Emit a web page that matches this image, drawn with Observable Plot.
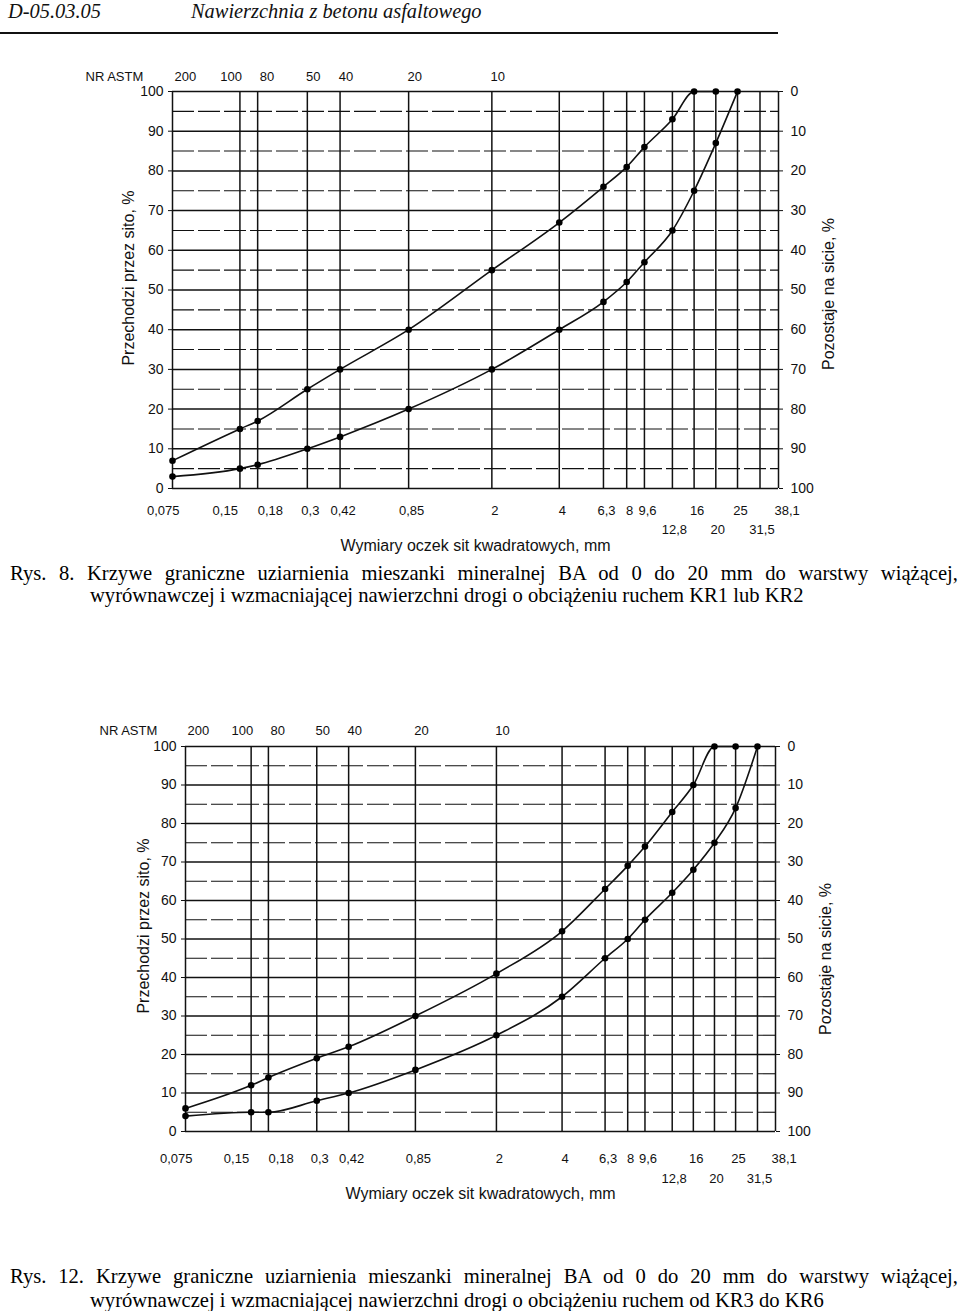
<!DOCTYPE html>
<html lang="pl">
<head>
<meta charset="utf-8">
<script src="https://cdn.jsdelivr.net/npm/d3@7"></script>
<script src="https://cdn.jsdelivr.net/npm/@observablehq/plot@0.6"></script>
<style>
  html, body { margin: 0; padding: 0; background: #fff; }
  #page { position: relative; width: 960px; height: 1311px; overflow: hidden; background: #fff; }
  .hdr { position: absolute; top: 0; font-family: "Liberation Serif", "Times New Roman", serif; font-style: italic; font-size: 20.4px; line-height: 22px; color: #111; white-space: nowrap; }
  .rule { position: absolute; left: 0; top: 32px; width: 778px; height: 2px; background: #111; }
  .chart { position: absolute; left: 0; }
  .cap { position: absolute; font-family: "Liberation Serif", "Times New Roman", serif; font-size: 20.6px; line-height: 22px; color: #000; white-space: nowrap; }
  .cap.first { width: 948px; white-space: normal; text-align: justify; text-align-last: justify; }
</style>
</head>
<body>
<div id="page">
  <div class="hdr" style="left:8px">D-05.03.05</div>
  <div class="hdr" style="left:191px">Nawierzchnia z betonu asfaltowego</div>
  <div class="rule"></div>

  <div id="chart1" class="chart" style="top:50px"></div>
  <div class="cap first" style="left:10px;top:562px">Rys. 8. Krzywe graniczne uziarnienia mieszanki mineralnej BA od 0 do 20 mm do warstwy wiążącej,</div>
  <div class="cap" style="left:90px;top:584px">wyrównawczej i wzmacniającej nawierzchni drogi o obciążeniu ruchem KR1 lub KR2</div>

  <div id="chart2" class="chart" style="top:700px"></div>
  <div class="cap first" style="left:10px;top:1265px">Rys. 12. Krzywe graniczne uziarnienia mieszanki mineralnej BA od 0 do 20 mm do warstwy wiążącej,</div>
  <div class="cap" style="left:90px;top:1289px">wyrównawczej i wzmacniającej nawierzchni drogi o obciążeniu ruchem od KR3 do KR6</div>
</div>

<script>
// ---- Sieve sizes (mm) and labels ----
const sieves = [0.075, 0.15, 0.18, 0.3, 0.42, 0.85, 2, 4, 6.3, 8, 9.6, 12.8, 16, 20, 25, 31.5, 38.1];
const bottomRow1 = [0.075, 0.15, 0.18, 0.3, 0.42, 0.85, 2, 4, 6.3, 8, 9.6, 16, 25, 38.1];
const bottomRow2 = [12.8, 20, 31.5];
const astmSizes = [0.075, 0.15, 0.18, 0.3, 0.42, 0.85, 2];
const astmNumbers = ["200", "100", "80", "50", "40", "20", "10"];
const majorY = [0, 10, 20, 30, 40, 50, 60, 70, 80, 90, 100];
const minorY = [5, 15, 25, 35, 45, 55, 65, 75, 85, 95];

// ---- Rys. 8: KR1 lub KR2 ----
const kr12UpperSizes = [0.075, 0.15, 0.18, 0.3, 0.42, 0.85, 2, 4, 6.3, 8, 9.6, 12.8, 16, 20];
const kr12Upper      = [7, 15, 17, 25, 30, 40, 55, 67, 76, 81, 86, 93, 100, 100];
const kr12LowerSizes = [0.075, 0.15, 0.18, 0.3, 0.42, 0.85, 2, 4, 6.3, 8, 9.6, 12.8, 16, 20, 25];
const kr12Lower      = [3, 5, 6, 10, 13, 20, 30, 40, 47, 52, 57, 65, 75, 87, 100];

// ---- Rys. 12: KR3 do KR6 ----
const kr36UpperSizes = [0.075, 0.15, 0.18, 0.3, 0.42, 0.85, 2, 4, 6.3, 8, 9.6, 12.8, 16, 20, 25];
const kr36Upper      = [6, 12, 14, 19, 22, 30, 41, 52, 63, 69, 74, 83, 90, 100, 100];
const kr36LowerSizes = [0.075, 0.15, 0.18, 0.3, 0.42, 0.85, 2, 4, 6.3, 8, 9.6, 12.8, 16, 20, 25, 31.5];
const kr36Lower      = [4, 5, 5, 8, 10, 16, 25, 35, 45, 50, 55, 62, 68, 75, 84, 100];

const fmt = d => String(d).replace(".", ",");
const INK = "#111";

function gradingChart(cfg) {
  const up = cfg.upperSizes.map((s, i) => ({size: s, pass: cfg.upper[i]}));
  const lo = cfg.lowerSizes.map((s, i) => ({size: s, pass: cfg.lower[i]}));
  const astm = astmSizes.map((s, i) => ({size: s, label: astmNumbers[i]}));
  const astmStart = astm.filter(d => d.label === "200" || d.label === "80");
  const astmEnd = astm.filter(d => d.label === "100");
  const astmMid = astm.filter(d => !["200", "80", "100"].includes(d.label));
  const first = bottomRow1[0], last = bottomRow1[bottomRow1.length - 1];
  const row1Mid = bottomRow1.filter(d => d !== first && d !== last && d !== 0.15 && d !== 0.18);
  const tf = {fill: INK, fontSize: 13};
  return Plot.plot({
    width: 960,
    height: cfg.height,
    marginLeft: cfg.mL, marginRight: cfg.mR, marginTop: cfg.mT, marginBottom: cfg.mB,
    x: {type: "log", domain: [sieves[0], sieves[sieves.length - 1]], axis: null},
    y: {domain: [0, 100], axis: null},
    style: {fontFamily: "'Liberation Sans', Arial, sans-serif", fontSize: "14px", color: INK, background: "transparent", overflow: "visible"},
    marks: [
      Plot.ruleY(minorY, {stroke: INK, strokeWidth: 1.1, strokeDasharray: "22,4"}),
      Plot.ruleY(majorY, {stroke: INK, strokeWidth: 1.5}),
      Plot.ruleX(sieves, {stroke: INK, strokeWidth: 1.5}),
      Plot.axisY({anchor: "left", ticks: majorY, tickSize: 4, tickPadding: 5, label: null, fontSize: 14, stroke: INK}),
      Plot.axisY({anchor: "right", ticks: majorY, tickSize: 4, tickPadding: 8, label: null, fontSize: 14, tickFormat: d => String(100 - d), stroke: INK}),
      // ASTM sieve numbers (top)
      Plot.text(["NR ASTM"], {frameAnchor: "top-left", textAnchor: "start", dx: cfg.astmTitleDx, dy: -cfg.topDy, fill: INK, fontSize: 13}),
      Plot.text(astmMid, {x: "size", text: "label", frameAnchor: "top", dx: 6, dy: -cfg.topDy, ...tf}),
      Plot.text(astmStart, {x: "size", text: "label", frameAnchor: "top", textAnchor: "start", dx: 2, dy: -cfg.topDy, ...tf}),
      Plot.text(astmEnd, {x: "size", text: "label", frameAnchor: "top", textAnchor: "end", dx: 2, dy: -cfg.topDy, ...tf}),
      // Sieve sizes (bottom)
      Plot.text([first], {x: d => d, text: fmt, frameAnchor: "bottom", textAnchor: "end", dx: 7, dy: cfg.row1Dy, ...tf}),
      Plot.text([0.15], {x: d => d, text: fmt, frameAnchor: "bottom", textAnchor: "end", dx: -2, dy: cfg.row1Dy, ...tf}),
      Plot.text([0.18], {x: d => d, text: fmt, frameAnchor: "bottom", textAnchor: "start", dx: 0, dy: cfg.row1Dy, ...tf}),
      Plot.text(row1Mid, {x: d => d, text: fmt, frameAnchor: "bottom", dx: 3, dy: cfg.row1Dy, ...tf}),
      Plot.text([last], {x: d => d, text: fmt, frameAnchor: "bottom", textAnchor: "start", dx: -4, dy: cfg.row1Dy, ...tf}),
      Plot.text(bottomRow2, {x: d => d, text: fmt, frameAnchor: "bottom", dx: 2, dy: cfg.row2Dy, ...tf}),
      Plot.text(["Wymiary oczek sit kwadratowych, mm"], {frameAnchor: "bottom", dy: cfg.titleDy, fill: INK, fontSize: 16}),
      // Axis titles
      Plot.text(["Przechodzi przez sito, %"], {frameAnchor: "left", textAnchor: "middle", rotate: -90, dx: cfg.leftTitleDx, dy: cfg.leftTitleDy, fill: INK, fontSize: 16}),
      Plot.text(["Pozostaje na sicie, %"], {frameAnchor: "right", textAnchor: "middle", rotate: -90, dx: cfg.rightTitleDx, dy: cfg.rightTitleDy, fill: INK, fontSize: 16}),
      // Grading envelope curves
      Plot.line(up, {x: "size", y: "pass", curve: "monotone-x", stroke: INK, strokeWidth: 1.6}),
      Plot.line(lo, {x: "size", y: "pass", curve: "monotone-x", stroke: INK, strokeWidth: 1.6}),
      Plot.dot(up, {x: "size", y: "pass", r: 3.3, fill: "#000", stroke: "none"}),
      Plot.dot(lo, {x: "size", y: "pass", r: 3.3, fill: "#000", stroke: "none"})
    ]
  });
}

document.getElementById("chart1").append(gradingChart({
  upperSizes: kr12UpperSizes, upper: kr12Upper, lowerSizes: kr12LowerSizes, lower: kr12Lower,
  height: 510, mL: 172, mR: 182, mT: 41, mB: 72,
  topDy: 20, row1Dy: 26, row2Dy: 45, titleDy: 62, astmTitleDx: -87,
  leftTitleDx: -44, leftTitleDy: -12, rightTitleDx: 50, rightTitleDy: 4
}));

document.getElementById("chart2").append(gradingChart({
  upperSizes: kr36UpperSizes, upper: kr36Upper, lowerSizes: kr36LowerSizes, lower: kr36Lower,
  height: 510, mL: 185, mR: 185, mT: 46, mB: 79,
  topDy: 21, row1Dy: 31, row2Dy: 51, titleDy: 67, astmTitleDx: -86,
  leftTitleDx: -42, leftTitleDy: -13, rightTitleDx: 50, rightTitleDy: 20
}));
</script>
</body>
</html>
